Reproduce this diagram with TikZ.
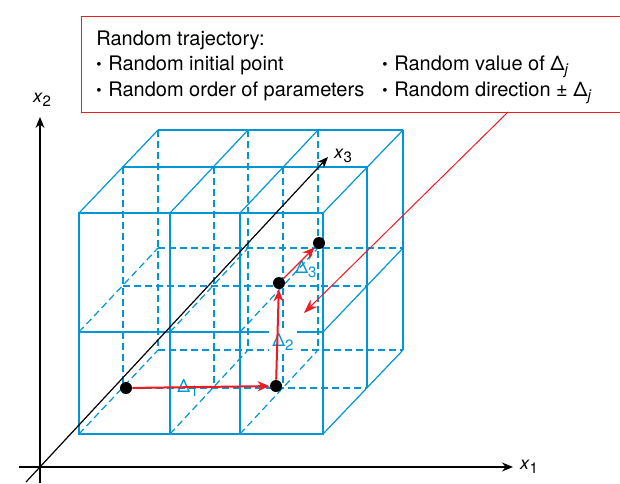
\documentclass[tikz,border=0pt]{standalone}
\usepackage{fontspec}
\setmainfont{TeX Gyre Heros}
\usetikzlibrary{arrows.meta}
\definecolor{cubeblue}{RGB}{0,150,214}
\definecolor{trajred}{RGB}{237,28,36}
\newcommand{\drawc}{\draw[cubeline]}
\newcommand{\drawh}{\draw[cubeline, hidden]}
\newcommand{\sbs}[1]{\raisebox{-0.45ex}{\fontsize{7.5}{7.5}\selectfont #1}}
\newcommand{\bul}{\raisebox{0.02ex}{\fontsize{7.5}{7.5}\selectfont •}\hspace{0.6pt} }

\begin{document}
\begin{tikzpicture}[x=0.5pt, y=-0.5pt, >={Stealth[length=5.5pt, width=4.5pt]},
  cubeline/.style={cubeblue, line width=0.6pt},
  hidden/.style={dash pattern=on 3.5pt off 2pt},
  axisline/.style={black, line width=0.6pt, ->},
  redarr/.style={trajred, line width=1pt, -{Stealth[length=6pt, width=5pt]}},
  pt/.style={circle, fill=black, inner sep=0pt, minimum size=6pt},
  lbl/.style={font=\fontsize{9}{9}\selectfont, inner sep=0.5pt},
  txt/.style={font=\fontsize{10}{13}\selectfont, anchor=base west, inner sep=0pt}]
\useasboundingbox (0,0) rectangle (620,483);
\clip (0,0) rectangle (620,483);

% Hop chu thich
\node[draw=trajred, line width=0.5pt, anchor=north west, inner sep=0pt,
  minimum width=290pt, minimum height=48pt] (trajbox) at (81,16) {};
\node[txt] (ttl) at (96,45) {Random trajectory:};
\node[txt] (it1) at (96,70) {\bul Random initial point};
\node[txt] (it2) at (96,96) {\bul Random order of parameters};
\node[txt] (it3) at (382,70) {\bul Random value of Δ\sbs{\textit{j}}};
\node[txt] (it4) at (382,96) {\bul Random direction ± Δ\sbs{\textit{j}}};

% Cac truc toa do
\coordinate (o1) at (19,467);  \coordinate (e1) at (513,467);
\coordinate (o2) at (40,483);  \coordinate (e2) at (40,117);
\coordinate (o3) at (26,482);  \coordinate (e3) at (328,157);
\draw[axisline] (o1) -- (e1);
\draw[axisline] (o2) -- (e2);
\node[lbl] (x1) at (529,467) {\textit{x}\sbs{1}};
\node[lbl] (x2) at (42,100) {\textit{x}\sbs{2}};

% Cac duong khuat
\drawh (123,167) -- (123,388) (214,167) -- (214,388) (283,167) -- (283,388);
\drawh (123,286) -- (367,286) (123,388) -- (367,388);
\drawh (158,130) -- (158,350) (248,130) -- (248,350) (318,130) -- (318,350);
\drawh (158,248) -- (403,248) (158,350) -- (403,350);
\drawh (79,332) -- (158,248) (170,332) -- (248,248) (240,332) -- (318,248);
\drawh (79,434) -- (158,350) (170,434) -- (248,350) (240,434) -- (318,350);

% Mat truoc, mat tren, mat phai
\drawc (79,213) rectangle (323,434);
\drawc (170,213) -- (170,434) (240,213) -- (240,434) (79,332) -- (323,332);
\drawc (123,167) -- (367,167) (158,130) -- (403,130);
\drawc (79,213) -- (158,130) (170,213) -- (248,130) (240,213) -- (318,130) (323,213) -- (403,130);
\drawc (367,167) -- (367,388) (403,130) -- (403,350);
\drawc (323,332) -- (403,248) (323,434) -- (403,350);

% Truc x3
\draw[axisline] (o3) -- (e3);
\node[lbl] (x3) at (343,156) {\textit{x}\sbs{3}};

% Quy dao ngau nhien
\node[lbl, text=cubeblue] (d1) at (188,388) {Δ\sbs{1}};
\node[lbl, text=cubeblue, fill=white, inner sep=1.5pt] (d2) at (283,342) {Δ\sbs{2}};
\node[lbl, text=cubeblue] (d3) at (306,269) {Δ\sbs{3}};
\node[pt] (p1) at (126,388) {};
\node[pt] (p2) at (276,386) {};
\node[pt] (p3) at (279,283) {};
\node[pt] (p4) at (319,243) {};
\draw[redarr] (p1) -- (p2);
\draw[redarr] (p2) -- (p3);
\draw[redarr, line width=0.6pt] (p3) -- (p4);

% Mui ten chi tu hop chu thich
\coordinate (ptr) at (508,112);
\coordinate (tgt) at (304,313);
\draw[trajred, line width=0.5pt, -{Stealth[length=7pt, width=5pt]}] (ptr) -- (tgt);

\end{tikzpicture}
\end{document}
